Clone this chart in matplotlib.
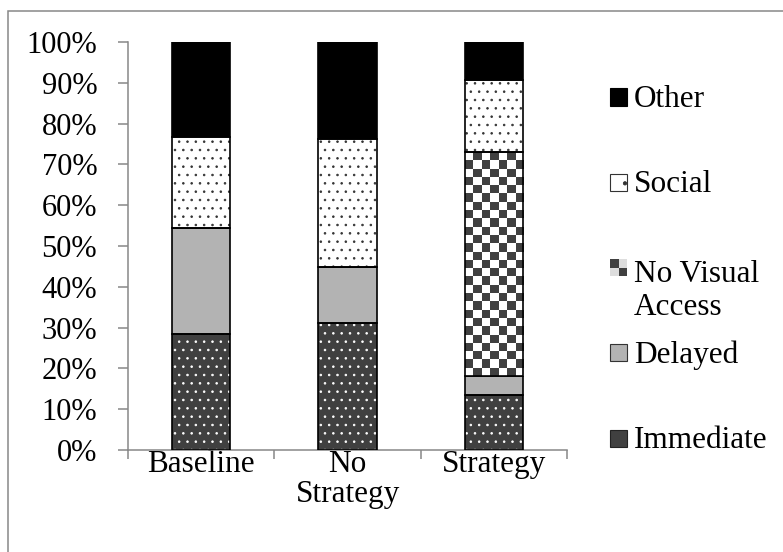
import numpy as np
import matplotlib
matplotlib.use("Agg")
import matplotlib.pyplot as plt
from matplotlib.patches import Rectangle
from matplotlib.colors import ListedColormap
from matplotlib.ticker import FuncFormatter

plt.rcParams['font.family'] = ['Liberation Serif', 'DejaVu Serif']
plt.rcParams['hatch.linewidth'] = 0.6

# ======== data (percent of responses) ========
groups = ["Baseline", "No\nStrategy", "Strategy"]
immediate = [28.4, 31.1, 13.5]
delayed = [26.1, 13.8, 4.7]
no_visual = [0.0, 0.0, 54.8]
social = [22.2, 31.3, 17.7]
other = [23.3, 23.8, 9.3]
legend_labels = ["Other", "Social", "No Visual\nAccess", "Delayed", "Immediate"]

DARK = "#404040"
GRAY = "#b3b3b3"
AXIS = "#888888"
FS_TICK = 22
FS = 22.5
W, H = 783, 552

fig = plt.figure(figsize=(W / 100, H / 100), dpi=100)
ax = fig.add_axes([128 / W, 102 / H, 439 / W, 408 / H])
ax.set_xlim(-0.5, 2.5)
ax.set_ylim(0, 100)

x = np.arange(len(groups))
w = 0.40
bottom = np.zeros(len(groups))

# immediate: dark with white dots (hatch colour = edgecolor, so outline drawn separately)
ax.bar(x, immediate, w, bottom=bottom, color=DARK, edgecolor="white", hatch="..", linewidth=0, zorder=1)
ax.bar(x, immediate, w, bottom=bottom, fill=False, edgecolor="black", linewidth=1.2, zorder=3)
bottom += immediate

# delayed: plain gray
ax.bar(x, delayed, w, bottom=bottom, color=GRAY, edgecolor="black", linewidth=1.2, zorder=1)
bottom += delayed

# no visual access: checkerboard clipped to the bar
nva = ax.bar(x, no_visual, w, bottom=bottom, color="white", edgecolor="none", linewidth=0, zorder=1)
checker_cmap = ListedColormap(["white", DARK])
for b in nva:
    if b.get_height() <= 0:
        continue
    x0, y0 = b.get_x(), b.get_y()
    x1, y1 = x0 + b.get_width(), y0 + b.get_height()
    p0 = ax.transData.transform((x0, y0))
    p1 = ax.transData.transform((x1, y1))
    ncol = 7
    cell = (p1[0] - p0[0]) / ncol
    nrow = max(1, int(round((p1[1] - p0[1]) / cell)))
    board = np.add.outer(np.arange(nrow), np.arange(ncol)) % 2
    im = ax.imshow(board, cmap=checker_cmap, extent=(x0, x1, y0, y1), aspect="auto",
                   interpolation="nearest", zorder=2)
    im.set_clip_path(b)
ax.bar(x, no_visual, w, bottom=bottom, fill=False, edgecolor="black", linewidth=1.2, zorder=3)
bottom += no_visual

# social: white with dark dots
ax.bar(x, social, w, bottom=bottom, color="white", edgecolor="#333333", hatch="..", linewidth=0, zorder=1)
ax.bar(x, social, w, bottom=bottom, fill=False, edgecolor="black", linewidth=1.2, zorder=3)
bottom += social

# other: black
ax.bar(x, other, w, bottom=bottom, color="black", edgecolor="black", linewidth=1.2, zorder=1)

ax.set_xlim(-0.5, 2.5)
ax.set_ylim(0, 100)

# ======== axes ========
for s in ["top", "right"]:
    ax.spines[s].set_visible(False)
for s in ["left", "bottom"]:
    ax.spines[s].set_color(AXIS)
    ax.spines[s].set_linewidth(1.1)

ax.set_yticks(np.arange(0, 101, 10))
ax.yaxis.set_major_formatter(FuncFormatter(lambda v, p: f"{int(round(v))}%"))
ax.tick_params(axis="y", direction="out", length=7.2, width=1.1, color=AXIS, pad=15, labelsize=FS_TICK)

ax.set_xticks([-0.5, 0.5, 1.5, 2.5])
ax.set_xticklabels([])
ax.set_xticks(x, minor=True)
ax.set_xticklabels(groups, minor=True, fontsize=FS, linespacing=1.05)
ax.tick_params(axis="x", which="major", direction="out", length=6.5, width=1.1, color=AXIS)
ax.tick_params(axis="x", which="minor", length=0, pad=0)

# ======== legend (drawn by hand: entries evenly spaced by first line, like Excel) ========
centers = np.linspace(97, 438, len(legend_labels))   # pixel rows from top
sq = 17
mx = 610
line_px = 1.2 * FS * 100 / 72
for lab, cy in zip(legend_labels, centers):
    fx, fy = mx / W, (H - cy - sq / 2) / H
    fw, fh = sq / W, sq / H
    if lab == "Other":
        fig.add_artist(Rectangle((fx, fy), fw, fh, transform=fig.transFigure,
                                 facecolor="black", edgecolor="black", lw=0.8))
    elif lab == "Social":
        fig.add_artist(Rectangle((fx, fy), fw, fh, transform=fig.transFigure,
                                 facecolor="white", edgecolor="#333333", hatch=".", lw=0.8))
    elif lab.startswith("No Visual"):
        for i in range(2):
            for j in range(2):
                c = DARK if (i + j) % 2 == 1 else "#dddddd"
                fig.add_artist(Rectangle((fx + i * fw / 2, fy + j * fh / 2), fw / 2, fh / 2,
                                         transform=fig.transFigure, facecolor=c, edgecolor="none"))
    elif lab == "Delayed":
        fig.add_artist(Rectangle((fx, fy), fw, fh, transform=fig.transFigure,
                                 facecolor=GRAY, edgecolor="#333333", lw=0.8))
    else:
        fig.add_artist(Rectangle((fx, fy), fw, fh, transform=fig.transFigure,
                                 facecolor=DARK, edgecolor="#222222", lw=0.8))
    # 'baseline' anchors the last line, so push multi-line labels down
    extra = line_px * lab.count("\n")
    fig.text((mx + sq + 7) / W, (H - cy - 10 - extra) / H, lab, fontsize=FS, va="baseline",
             ha="left", linespacing=1.2)

# outer frame of the chart area
fig.add_artist(Rectangle((8 / W, -0.5), 2, 0.5 + (H - 11) / H, transform=fig.transFigure,
                         fill=False, edgecolor=AXIS, linewidth=1.1))

fig.savefig("out.png", dpi=100)
